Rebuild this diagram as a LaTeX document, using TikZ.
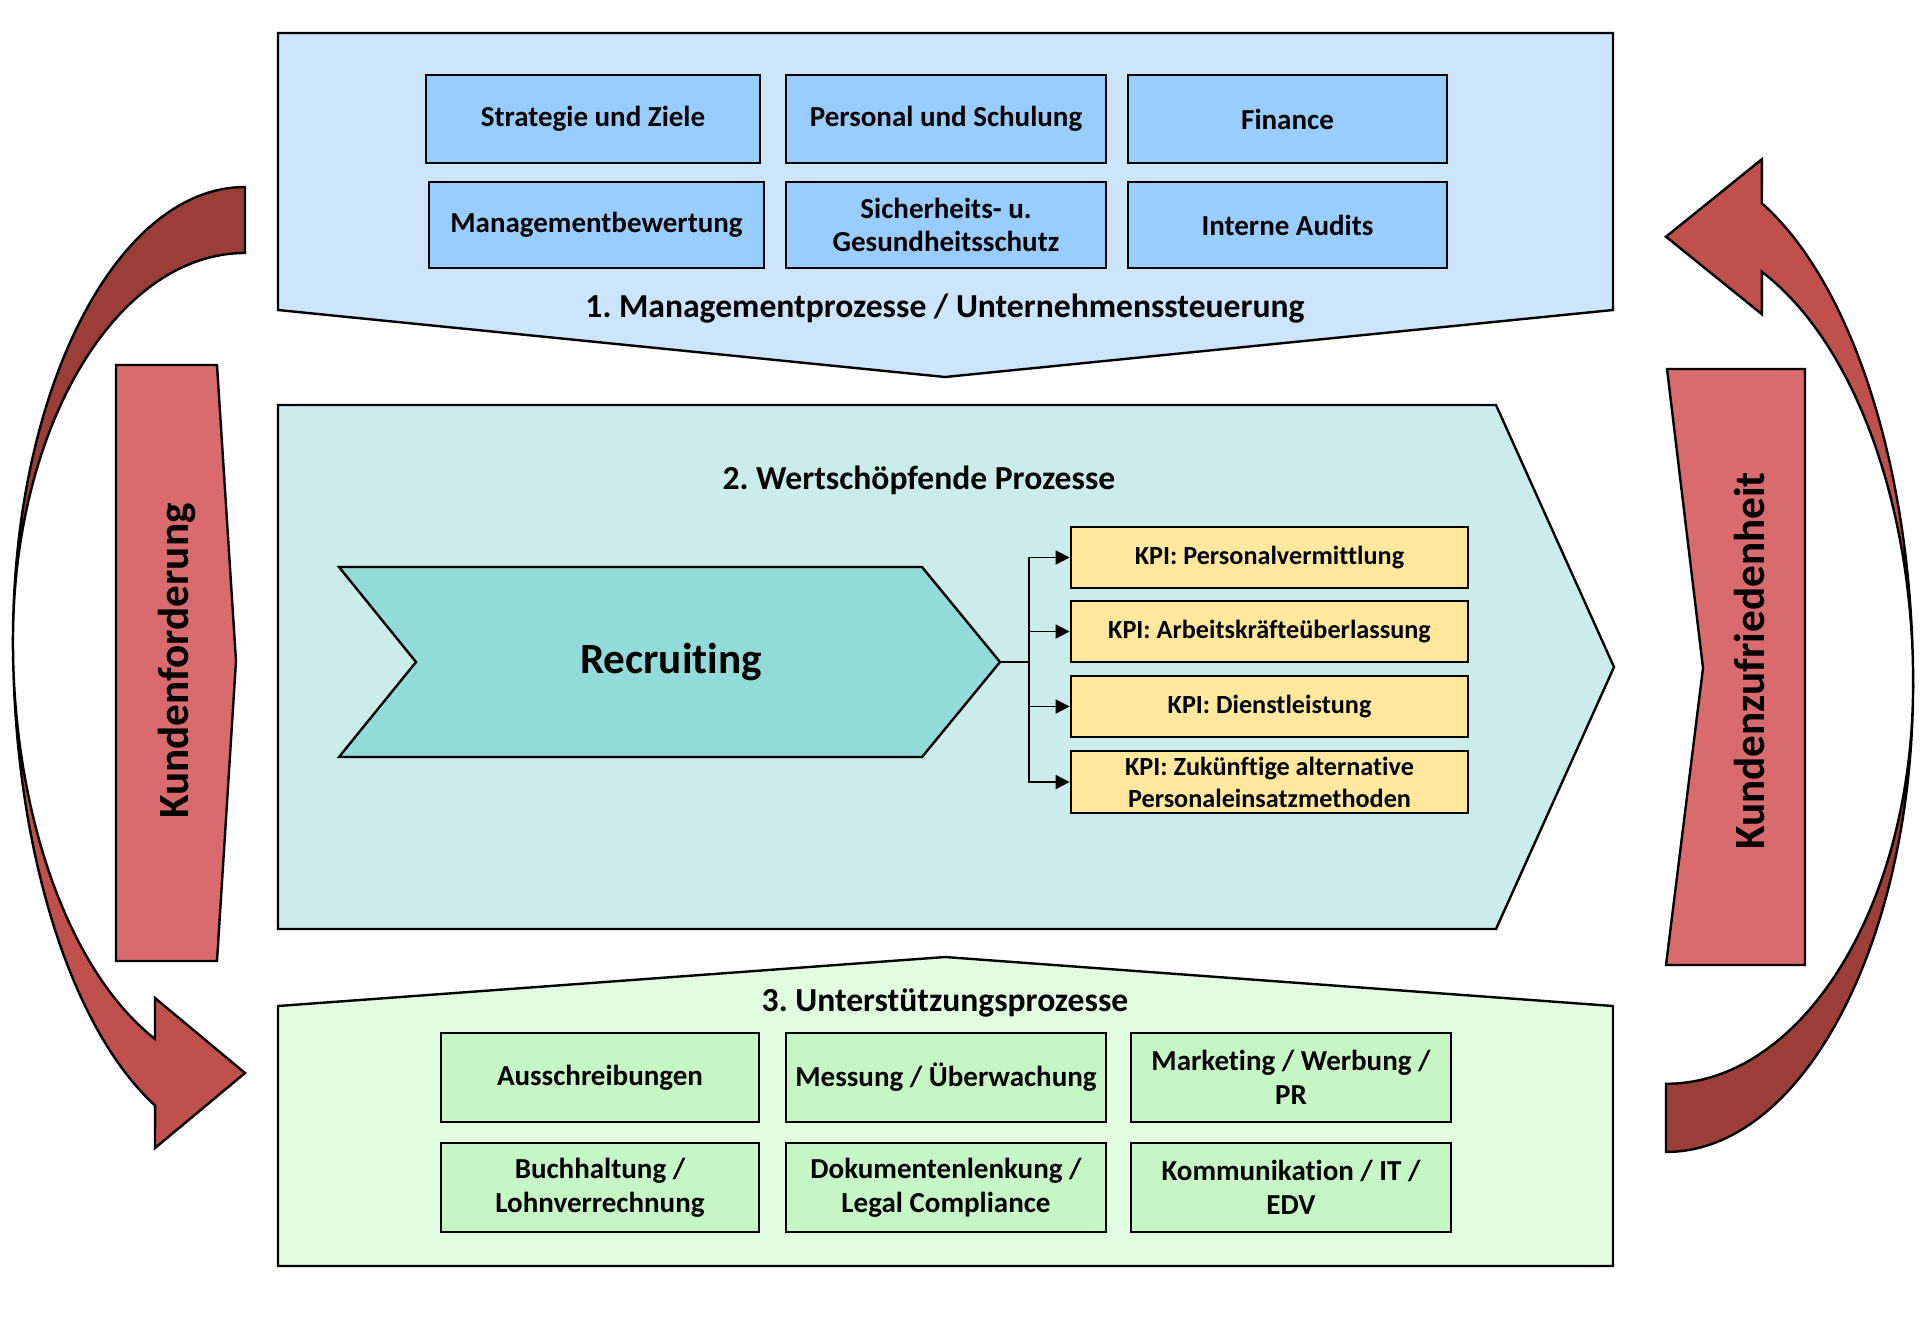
\documentclass[tikz,border=0pt]{standalone}
\usepackage{fontspec}
\setmainfont{Carlito}[Ligatures=NoCommon]
\usetikzlibrary{arrows.meta}
\definecolor{mgmtfill}{HTML}{CCE4FC}
\definecolor{mgmtbox}{HTML}{99CCFF}
\definecolor{valfill}{HTML}{CCEBEB}
\definecolor{recfill}{HTML}{93DBD9}
\definecolor{kpifill}{HTML}{FFE89E}
\definecolor{supfill}{HTML}{E2FCE2}
\definecolor{supbox}{HTML}{C6F6C6}
\definecolor{banner}{HTML}{D96B6E}
\definecolor{arrdark}{HTML}{9B3D38}
\definecolor{arrlight}{HTML}{C0504D}
\newcommand\boxfnt{\fontsize{14.5}{16.8}\selectfont\bfseries}
\newcommand\titlefnt{\fontsize{16.8}{19}\selectfont\bfseries}
\newcommand\kpifnt{\fontsize{13.1}{16}\selectfont\bfseries}
\newcommand\bigfnt{\fontsize{21.6}{24}\selectfont\bfseries}
\frenchspacing
\tikzset{
  outline/.style={draw=black, line width=1.2pt, line join=miter},
  boxline/.style={draw=black, line width=1.4pt, line join=miter},
  mbox/.style={boxline, fill=mgmtbox, align=center, inner sep=0pt, font=\boxfnt},
  sbox/.style={boxline, fill=supbox, align=center, inner sep=0pt, font=\boxfnt},
  kbox/.style={boxline, fill=kpifill, align=center, inner sep=0pt, font=\kpifnt,
    minimum width=198.5pt, minimum height=30.5pt},
  conn/.style={draw=black, line width=0.9pt},
  connarrow/.style={conn, -{Triangle[length=7pt,width=7pt]}},
  title/.style={font=\titlefnt, inner sep=0pt},
  bannertext/.style={font=\bigfnt, rotate=90, inner sep=0pt},
}
\begin{document}
\begin{tikzpicture}[x=0.5pt, y=-0.5pt]
\useasboundingbox[fill=white] (0,0) rectangle (1920,1329);

% ---------- sections ----------
\filldraw[outline, fill=mgmtfill] (278,33) -- (1613,33) -- (1613,310) -- (945,377) -- (278,310) -- cycle;
\filldraw[outline, fill=valfill] (278,405) -- (1496,405) -- (1614,667) -- (1496,929) -- (278,929) -- cycle;
\filldraw[outline, fill=supfill] (278,1006) -- (945,957) -- (1613,1006) -- (1613,1266) -- (278,1266) -- cycle;

% ---------- management boxes ----------
\node[mbox, minimum width=167pt, minimum height=44pt] (m1) at (593,119) {Strategie und Ziele};
\node[mbox, minimum width=160pt, minimum height=44pt] (m2) at (946,119) {Personal und Schulung};
\node[mbox, minimum width=159.5pt, minimum height=44pt] (m3) at (1287.5,119) {Finance};
\node[mbox, minimum width=167.5pt, minimum height=43pt] (m4) at (596.5,225) {Managementbewertung};
\node[mbox, minimum width=160pt, minimum height=43pt] (m5) at (946,225) {Sicherheits- u.\\Gesundheitsschutz};
\node[mbox, minimum width=159.5pt, minimum height=43pt] (m6) at (1287.5,225) {Interne Audits};
\node[title] (t1) at (945,309) {1. Managementprozesse / Unternehmenssteuerung};

% ---------- value chain ----------
\node[title] (t2) at (919,480) {2. Wertschöpfende Prozesse};
\filldraw[outline, fill=recfill] (339,567) -- (922,567) -- (1000,662) -- (922,757) -- (339,757) -- (416,662) -- cycle;
\node[font=\bigfnt, inner sep=0pt] (rec) at (671,662) {Recruiting};
\coordinate (recTip) at (1000,662);
\coordinate (bus) at (1029,662);

\node[kbox] (k1) at (1269.5,557.5) {KPI: Personalvermittlung};
\node[kbox] (k2) at (1269.5,631.5) {KPI: Arbeitskräfteüberlassung};
\node[kbox] (k3) at (1269.5,706.5) {KPI: Dienstleistung};
\node[kbox, minimum height=31pt] (k4) at (1269.5,782) {KPI: Zukünftige alternative\\Personaleinsatzmethoden};

\draw[conn] (recTip) -- (bus);
\draw[connarrow] (bus) |- (k1.west);
\draw[connarrow] (bus) |- (k2.west);
\draw[connarrow] (bus) |- (k3.west);
\draw[connarrow] (bus) |- (k4.west);

% ---------- support boxes ----------
\node[title] (t3) at (945,1003) {3. Unterstützungsprozesse};
\node[sbox, minimum width=159pt, minimum height=44.5pt] (s1) at (600,1077.5) {Ausschreibungen};
\node[sbox, minimum width=160pt, minimum height=44.5pt] (s2) at (946,1077.5) {Messung / Überwachung};
\node[sbox, minimum width=160pt, minimum height=44.5pt] (s3) at (1291,1077.5) {Marketing / Werbung /\\PR};
\node[sbox, minimum width=159pt, minimum height=44.5pt] (s4) at (600,1187.5) {Buchhaltung /\\Lohnverrechnung};
\node[sbox, minimum width=160pt, minimum height=44.5pt] (s5) at (946,1187.5) {Dokumentenlenkung /\\Legal Compliance};
\node[sbox, minimum width=160pt, minimum height=44.5pt] (s6) at (1291,1187.5) {Kommunikation / IT /\\EDV};

% ---------- banners ----------
\filldraw[outline, fill=banner] (116,365) -- (217,365) -- (236,661) -- (217,961) -- (116,961) -- cycle;
\node[bannertext] (kf) at (177,661) {Kundenforderung};
\filldraw[outline, fill=banner] (1667,369) -- (1805,369) -- (1805,965) -- (1666,965) -- (1703,668) -- cycle;
\node[bannertext] (kz) at (1749,661) {Kundenzufriedenheit};

% ---------- curved arrows ----------
\begin{scope}[shift={(245,640)}]
  \filldraw[outline, fill=arrdark] (0,-453) arc[start angle=270, end angle=180, x radius=232, y radius=453]
    arc[start angle=180, end angle=270, x radius=232, y radius=387] -- cycle;
  \filldraw[outline, fill=arrlight] (-232,0) arc[start angle=180, end angle=112.8, x radius=232, y radius=505]
    -- (-90,508) -- (0,433) -- (-90,358) -- (-90,399)
    arc[start angle=112.8, end angle=180, x radius=232, y radius=433] -- cycle;
\end{scope}
\begin{scope}[shift={(1666,684)}, rotate=180, xscale=1.065, yscale=1.033]
  \filldraw[outline, fill=arrdark] (0,-453) arc[start angle=270, end angle=180, x radius=232, y radius=453]
    arc[start angle=180, end angle=270, x radius=232, y radius=387] -- cycle;
  \filldraw[outline, fill=arrlight] (-232,0) arc[start angle=180, end angle=112.8, x radius=232, y radius=505]
    -- (-90,508) -- (0,433) -- (-90,358) -- (-90,399)
    arc[start angle=112.8, end angle=180, x radius=232, y radius=433] -- cycle;
\end{scope}
\end{tikzpicture}
\end{document}
